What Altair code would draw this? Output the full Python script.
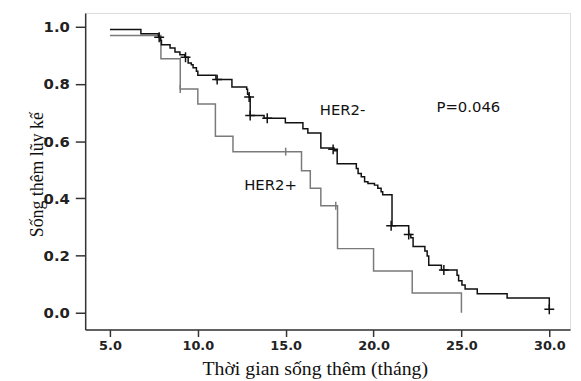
import altair as alt
import pandas as pd

# HER2- (black) Kaplan-Meier steps
black_t = [5.0, 6.76, 7.76, 7.87, 7.93, 8.42, 8.7, 8.98, 9.26, 9.45, 9.63, 9.73, 9.92, 10.0,
           11.03, 11.94, 12.78, 12.83, 12.92, 12.98, 13.77, 14.98, 15.98, 16.26, 17.0, 17.75,
           17.93, 19.02, 19.12, 19.3, 19.49, 19.68, 20.05, 20.24, 20.43, 20.52, 21.05, 22.0,
           22.12, 22.25, 22.92, 23.05, 23.14, 23.86, 24.75, 24.84, 25.03, 25.21, 25.9, 27.6, 30.0]
black_s = [0.990, 0.975, 0.963, 0.952, 0.937, 0.925, 0.911, 0.902, 0.893, 0.873, 0.867, 0.856,
           0.844, 0.830, 0.815, 0.789, 0.781, 0.764, 0.754, 0.689, 0.680, 0.664, 0.643, 0.628,
           0.576, 0.566, 0.521, 0.504, 0.487, 0.475, 0.458, 0.452, 0.446, 0.435, 0.423, 0.412,
           0.304, 0.273, 0.262, 0.231, 0.216, 0.198, 0.166, 0.149, 0.131, 0.112, 0.097, 0.083,
           0.066, 0.051, 0.012]
black_cens_t = [7.8, 9.3, 11.1, 12.92, 12.98, 13.95, 17.7, 21.0, 22.0, 24.0, 30.0]
black_cens_s = [0.963, 0.893, 0.815, 0.754, 0.689, 0.680, 0.571, 0.304, 0.273, 0.149, 0.012]

# HER2+ (gray)
gray_t = [5.0, 7.9, 9.0, 10.0, 11.0, 12.0, 15.9, 16.4, 17.0, 17.95, 20.0, 22.2, 25.0]
gray_s = [0.969, 0.888, 0.782, 0.730, 0.617, 0.563, 0.496, 0.435, 0.374, 0.224, 0.146, 0.069, 0.0]
gray_cens_t = [9.0, 15.0, 17.85]
gray_cens_s = [0.782, 0.563, 0.374]

label_text = ["HER2-", "HER2+", "P=0.046"]
label_t = [16.94, 12.64, 23.58]
label_s = [0.709, 0.446, 0.72]

x_ticks = [5.0, 10.0, 15.0, 20.0, 25.0, 30.0]
y_ticks = [0.0, 0.2, 0.4, 0.6, 0.8, 1.0]

black_df = pd.DataFrame({"t": black_t, "s": black_s})
gray_df = pd.DataFrame({"t": gray_t, "s": gray_s})
bc_df = pd.DataFrame({"t": black_cens_t, "s": black_cens_s})
gc_df = pd.DataFrame({"t": gray_cens_t, "s": gray_cens_s})
lab_df = pd.DataFrame({"text": label_text, "t": label_t, "s": label_s})

xs = alt.Scale(domain=[3.59, 31.18], nice=False, zero=False)
ys = alt.Scale(domain=[-0.059, 1.048], nice=False, zero=False)

x_axis = alt.Axis(values=x_ticks, format=".1f", title="Thời gian sống thêm (tháng)",
                  grid=False, domain=True, domainColor="#333", domainWidth=1.5,
                  tickSize=7, tickColor="#333", tickWidth=1.5,
                  labelFont="DejaVu Sans", labelFontWeight="bold", labelFontSize=13,
                  labelColor="#222", labelPadding=3,
                  titleFont="Liberation Serif", titleFontSize=20, titleFontWeight="normal",
                  titleColor="#111", titleX=232, titleY=39, titleBaseline="middle",
                  titleAlign="center")
y_axis = alt.Axis(values=y_ticks, format=".1f", title="Sống thêm lũy kế",
                  grid=False, domain=True, domainColor="#333", domainWidth=1.5,
                  tickSize=10, tickColor="#333", tickWidth=1.5,
                  labelFont="DejaVu Sans", labelFontWeight="bold", labelFontSize=15,
                  labelColor="#222", labelPadding=6,
                  titleFont="Liberation Serif", titleFontSize=18, titleFontWeight="normal",
                  titleColor="#111", titleX=-48, titleY=163, titleAngle=270,
                  titleBaseline="middle", titleAlign="center")

gray_line = alt.Chart(gray_df).mark_line(interpolate="step-after", color="#7a7a7a",
                                         strokeWidth=1.5).encode(
    x=alt.X("t:Q", scale=xs, axis=x_axis),
    y=alt.Y("s:Q", scale=ys, axis=y_axis),
)
black_line = alt.Chart(black_df).mark_line(interpolate="step-after", color="#111111",
                                           strokeWidth=1.5).encode(
    x=alt.X("t:Q", scale=xs), y=alt.Y("s:Q", scale=ys))

black_cens = alt.Chart(bc_df).mark_point(shape="M-1,0H1M0,-1V1", filled=False, size=100,
                                         color="#111111", strokeWidth=1.5, opacity=1).encode(
    x=alt.X("t:Q", scale=xs), y=alt.Y("s:Q", scale=ys))
gray_cens = alt.Chart(gc_df).mark_point(shape="M0,-1V1", filled=False, size=64,
                                        color="#7a7a7a", strokeWidth=1.5, opacity=1).encode(
    x=alt.X("t:Q", scale=xs), y=alt.Y("s:Q", scale=ys))

labels = alt.Chart(lab_df).mark_text(font="DejaVu Sans", fontSize=15, align="left",
                                     baseline="middle", color="#111").encode(
    x=alt.X("t:Q", scale=xs), y=alt.Y("s:Q", scale=ys), text="text:N")

chart = alt.layer(gray_line, black_line, gray_cens, black_cens, labels).properties(
    width=490, height=320,
    autosize=alt.AutoSizeParams(type="none"),
    padding={"left": 78, "top": 3, "right": 3, "bottom": 50},
).configure_view(stroke="#333", strokeWidth=1.5).configure(background="white")

chart.save("out.html", embed_options={"renderer": "svg", "actions": False})
